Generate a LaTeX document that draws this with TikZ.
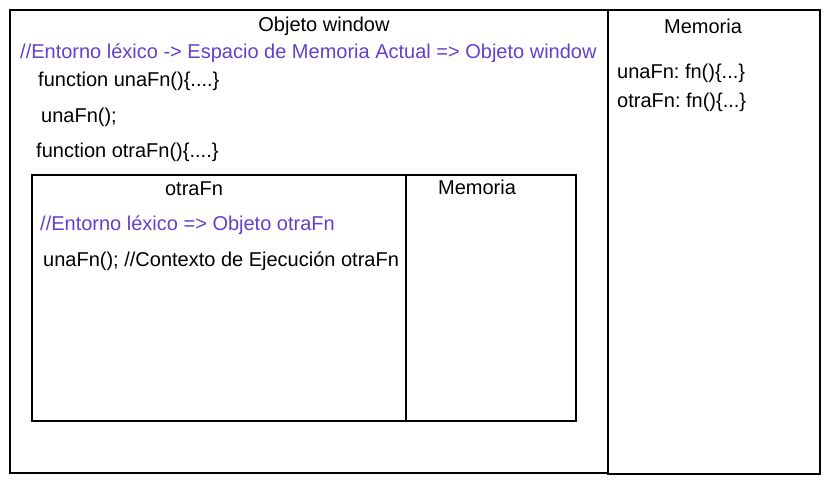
\documentclass[tikz,border=0pt]{standalone}
\usepackage{fontspec}
\setmainfont{Liberation Sans}
\frenchspacing
\definecolor{cmt}{RGB}{100,64,204}
\begin{document}
\begin{tikzpicture}[x=1pt,y=-1pt,
  box/.style={draw=black,line width=1.2pt},
  txt/.style={inner sep=0pt,font=\fontsize{20}{23}\selectfont},
  lt/.style={txt,anchor=base west},
  ct/.style={txt,anchor=base},
  comtxt/.style={lt,text=cmt}]
\useasboundingbox[fill=white] (0,0) rectangle (829,484);
% outer boxes
\draw[box] (10,10) rectangle (608,473);
\draw[box] (608,10) rectangle (820,474);
% inner boxes
\draw[box] (32,175) rectangle (406,421);
\draw[box] (406,175) rectangle (576,421);
% outer texts
\node[ct] (ow) at (324,32) {Objeto window};
\node[comtxt] (c1) at (20,59) {//Entorno léxico -> Espacio de Memoria Actual => Objeto window};
\node[lt] (f1) at (38,87) {function unaFn()\{....\}};
\node[lt] (u1) at (41,122) {unaFn();};
\node[lt] (f2) at (36,157) {function otraFn()\{....\}};
% right memory
\node[ct] (m1) at (703,34) {Memoria};
\node[lt] (m1a) at (617,79) {unaFn: fn()\{...\}};
\node[lt] (m1b) at (617,107) {otraFn: fn()\{...\}};
% inner texts
\node[ct] (of) at (194,195) {otraFn};
\node[ct] (m2) at (477,194) {Memoria};
\node[comtxt] (c2) at (40,230) {//Entorno léxico => Objeto otraFn};
\node[lt] (u2) at (43,266) {unaFn(); //Contexto de Ejecución otraFn};
\end{tikzpicture}
\end{document}
